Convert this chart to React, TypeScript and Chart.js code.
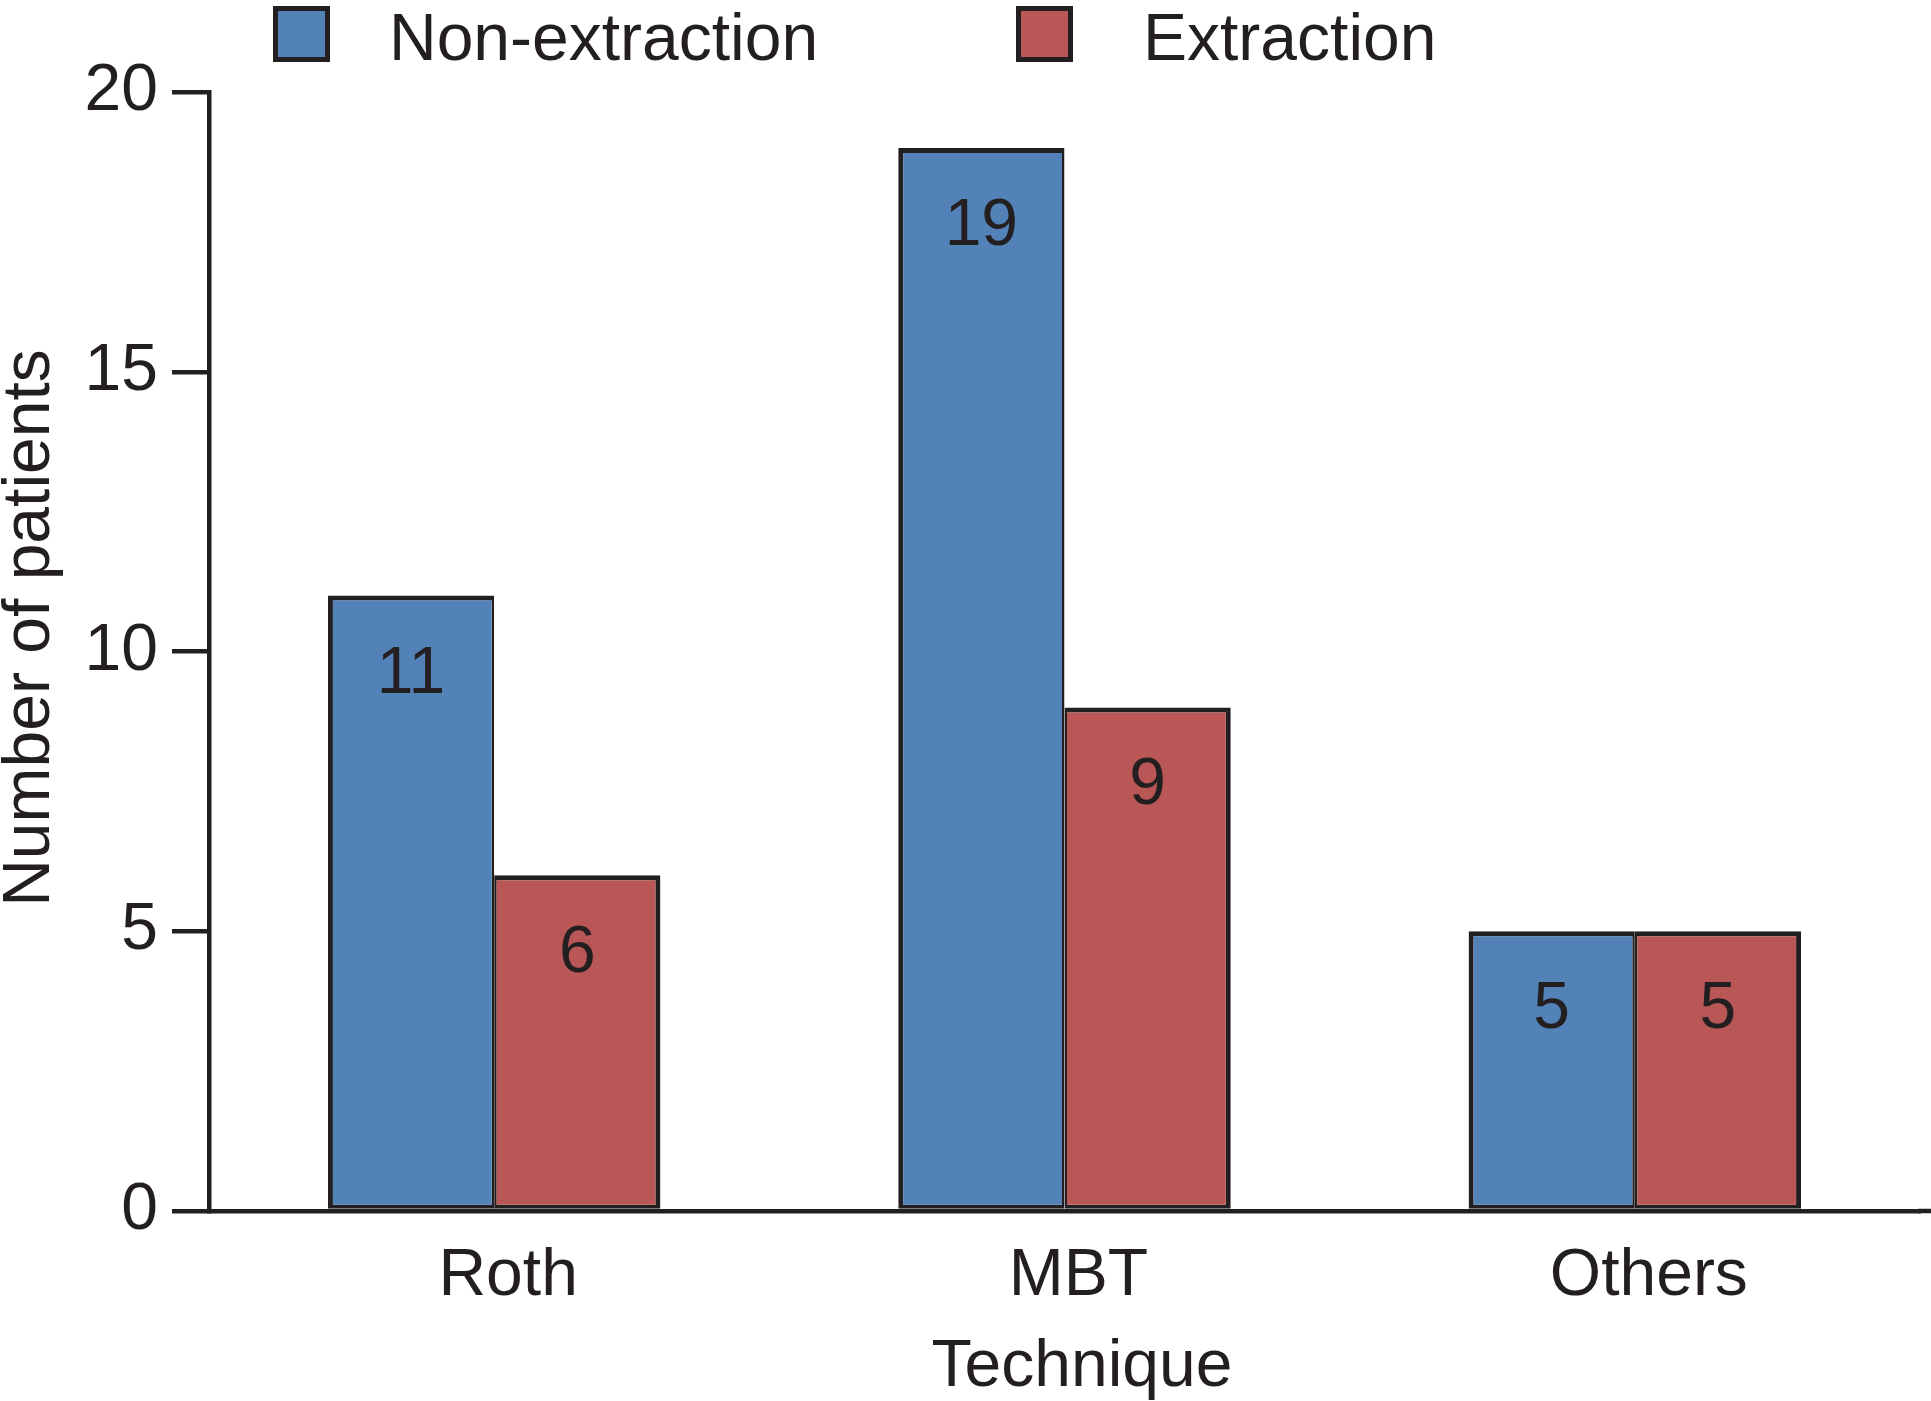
import React, { useEffect, useRef } from "react";
import { Chart, registerables } from "chart.js";

Chart.register(...registerables);

const categories = ["Roth", "MBT", "Others"];
const nonExtraction = [11, 19, 5];
const extraction = [6, 9, 5];
const seriesNames = ["Non-extraction", "Extraction"];
const yTickValues = [0, 5, 10, 15, 20];
const xTitle = "Technique";
const yTitle = "Number of patients";

const INK = "#231f20";
const BLUE = "#5282b8";
const RED = "#b95656";
const FONT = "'Liberation Sans', Arial, Helvetica, sans-serif";
const FS = 66;

const W = 1931;
const H = 1401;
const AXIS_W = 4.5;

const overlayPlugin = {
  id: "overlay",
  afterDatasetsDraw(chart: any) {
    const ctx = chart.ctx;
    ctx.save();
    ctx.font = `${FS}px ${FONT}`;
    ctx.fillStyle = INK;
    ctx.textAlign = "center";
    ctx.textBaseline = "alphabetic";
    chart.data.datasets.forEach((ds: any, di: number) => {
      const meta = chart.getDatasetMeta(di);
      meta.data.forEach((el: any, i: number) => {
        ctx.fillText(String(ds.data[i]), el.x, el.y + 97);
      });
    });
    ctx.restore();
  },
  afterDraw(chart: any) {
    const ctx = chart.ctx;
    const area = chart.chartArea;
    ctx.save();
    // extend the x axis line to the right edge of the figure
    ctx.strokeStyle = INK;
    ctx.lineWidth = AXIS_W;
    ctx.beginPath();
    ctx.moveTo(area.right - 2, area.bottom);
    ctx.lineTo(W, area.bottom);
    ctx.stroke();

    ctx.font = `${FS}px ${FONT}`;
    // legend
    const items = [
      { box: 273, text: 389 },
      { box: 1016, text: 1143 },
    ];
    chart.data.datasets.forEach((ds: any, di: number) => {
      const it = items[di];
      ctx.fillStyle = INK;
      ctx.fillRect(it.box, 6, 57, 56);
      ctx.fillStyle = ds.backgroundColor;
      ctx.fillRect(it.box + 5, 11, 47, 46);
      ctx.fillStyle = INK;
      ctx.textAlign = "left";
      ctx.textBaseline = "alphabetic";
      ctx.fillText(ds.label, it.text, 60);
    });
    // x title
    ctx.textAlign = "center";
    ctx.fillText(xTitle, 1082, 1386);
    // y title
    ctx.translate(49, 628);
    ctx.rotate(-Math.PI / 2);
    ctx.fillText(yTitle, 0, 0);
    ctx.restore();
  },
};

export default function App() {
  const ref = useRef<HTMLCanvasElement>(null);
  useEffect(() => {
    if (!ref.current) return;
    const chart = new Chart(ref.current, {
      type: "bar",
      data: {
        labels: categories,
        datasets: [
          {
            label: seriesNames[0],
            data: nonExtraction,
            backgroundColor: BLUE,
            borderColor: INK,
            borderWidth: { top: 5, left: 5, right: 2.5, bottom: 4 },
            borderSkipped: false,
          },
          {
            label: seriesNames[1],
            data: extraction,
            backgroundColor: RED,
            borderColor: INK,
            borderWidth: { top: 5, left: 2.5, right: 5, bottom: 4 },
            borderSkipped: false,
          },
        ],
      },
      options: {
        animation: false,
        responsive: false,
        devicePixelRatio: 1,
        layout: { padding: { top: 92, left: 0, right: 11, bottom: 0 } },
        plugins: {
          legend: { display: false },
          tooltip: { enabled: false },
        },
        datasets: {
          bar: { categoryPercentage: 0.583, barPercentage: 1 },
        },
        scales: {
          x: {
            grid: { display: false, drawTicks: false },
            border: { display: true, color: INK, width: AXIS_W },
            ticks: {
              color: INK,
              font: { family: FONT, size: FS },
              padding: 26,
              maxRotation: 0,
              labelOffset: 14,
            },
            afterFit(s: any) {
              s.height = H - 1211;
              s.paddingLeft = 0;
              s.paddingRight = 0;
            },
          },
          y: {
            min: 0,
            max: 20,
            afterBuildTicks(s: any) {
              s.ticks = yTickValues.map((v) => ({ value: v }));
            },
            grid: {
              display: true,
              drawOnChartArea: false,
              drawTicks: true,
              tickLength: 37,
              color: INK,
              lineWidth: AXIS_W,
            },
            border: { display: true, color: INK, width: AXIS_W },
            ticks: {
              color: INK,
              font: { family: FONT, size: FS },
              padding: 14,
            },
            afterFit(s: any) {
              s.width = 209;
              s.paddingTop = 0;
              s.paddingBottom = 0;
            },
          },
        },
      },
      plugins: [overlayPlugin],
    } as any);
    return () => chart.destroy();
  }, []);
  return (
    <div style={{ position: "absolute", left: 0, top: 0, width: W, height: H, background: "#fff" }}>
      <canvas ref={ref} width={W} height={H} style={{ display: "block" }} />
    </div>
  );
}
